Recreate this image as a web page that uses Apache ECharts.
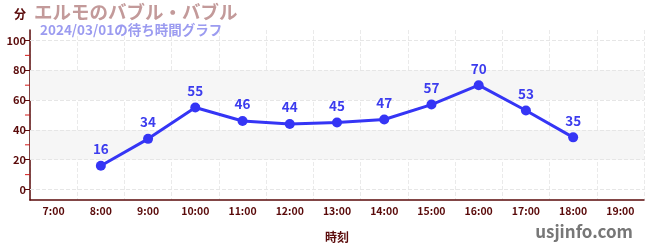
<!DOCTYPE html>
<html><head><meta charset="utf-8">
<script src="https://cdn.jsdelivr.net/npm/echarts@6/dist/echarts.min.js"></script>
<style>html,body{margin:0;padding:0;background:#fff}#c{width:650px;height:250px}</style>
</head><body><div id="c"></div>
<script>
const categories = ['7:00','8:00','9:00','10:00','11:00','12:00','13:00','14:00','15:00','16:00','17:00','18:00','19:00'];
const waitTimes = [null,16,34,55,46,44,45,47,57,70,53,35,null];
const yTicks = [0,20,40,60,80,100];
const yMinorTicks = [10,30,50,70,90];
const bands = [[20,40],[60,80]];
const titleText = 'エルモのバブル・バブル';
const subtitleText = '2024/03/01の待ち時間グラフ';

const font = '"Noto Sans CJK JP", "Noto Sans", sans-serif';
const axisColor = '#5a0a0a';
const chart = echarts.init(document.getElementById('c'), null, {renderer:'canvas'});
chart.setOption({
  animation:false,
  textStyle:{fontFamily:font},
  title:[
    {text:titleText, left:34, top:3, padding:0, textStyle:{fontSize:18.5, fontWeight:'bold', color:'#c39a9a', fontFamily:font}},
    {text:subtitleText, left:40, top:23, padding:0, textStyle:{fontSize:13.5, fontWeight:'bold', color:'#9b9bf0', fontFamily:font}},
    {text:'分', left:14, top:8, padding:0, textStyle:{fontSize:12, fontWeight:'bold', color:axisColor, fontFamily:font}},
    {text:'usjinfo.com', right:17, top:223, padding:0, textStyle:{fontSize:17, fontWeight:'bold', color:'#777', fontFamily:font}}
  ],
  grid:{left:30, right:6, top:30, bottom:50},
  xAxis:{
    type:'category', data:categories, boundaryGap:true,
    name:'時刻', nameLocation:'middle', nameGap:31,
    nameTextStyle:{fontSize:12, fontWeight:'bold', color:axisColor},
    axisLine:{onZero:false, lineStyle:{color:axisColor, width:1.5}},
    axisTick:{alignWithLabel:true, length:4, lineStyle:{color:'#777'}},
    axisLabel:{fontSize:10.5, fontWeight:'bold', color:axisColor, margin:6},
    splitLine:{show:true, lineStyle:{color:'#eaeaea', type:'dashed'}}
  },
  yAxis:{
    type:'value', min:-7, max:107,
    axisLine:{show:true, lineStyle:{color:axisColor, width:1.5}},
    axisTick:{show:true, customValues:yTicks, length:5, lineStyle:{color:axisColor}},
    axisLabel:{customValues:yTicks, fontSize:11, fontWeight:'bold', color:axisColor, margin:4},
    splitLine:{show:false}
  },
  series:[
    {
      type:'line', data:[], z:1, silent:true,
      markArea:{silent:true, itemStyle:{color:'#f6f6f6'},
        data: bands.map(b=>[{yAxis:b[0]},{yAxis:b[1]}])},
      markLine:{silent:true, symbol:'none', label:{show:false},
        lineStyle:{color:'#e6e6e6', type:'dashed', width:1},
        data: yTicks.map(v=>({yAxis:v}))}
    },
    {
      type:'line', data:waitTimes, connectNulls:false, z:5,
      symbol:'circle', symbolSize:10,
      lineStyle:{color:'#3535f5', width:3},
      itemStyle:{color:'#3535f5'},
      label:{show:true, position:'top', distance:5, fontSize:13.5, fontWeight:'bold', color:'#3c3cee'},
      labelLayout:{hideOverlap:false}
    }
  ]
});
const els = yMinorTicks.map(v=>{
  const p = chart.convertToPixel({yAxisIndex:0}, v);
  return {type:'line', z:10, shape:{x1:25, y1:p, x2:30, y2:p}, style:{stroke:'#d01818', lineWidth:1}};
});
chart.setOption({graphic:els});
</script></body></html>
